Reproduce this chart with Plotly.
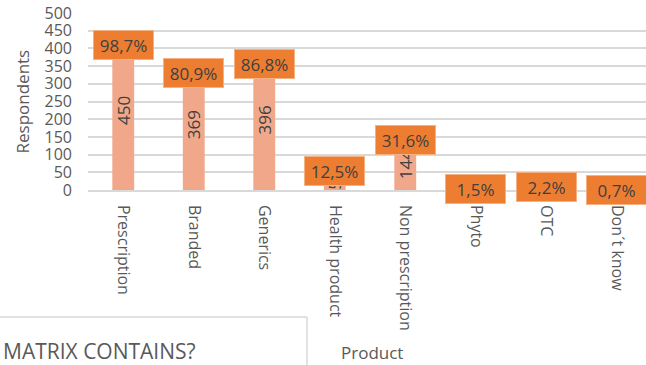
import plotly.graph_objects as go

categories = ["Prescription", "Branded", "Generics", "Health product",
              "Non prescription", "Phyto", "OTC", "Don´t know"]
respondents = [450, 369, 396, 57, 144, 7, 10, 3]
pct_labels = ["98,7%", "80,9%", "86,8%", "12,5%", "31,6%", "1,5%", "2,2%", "0,7%"]
y_ticks = [0, 50, 100, 150, 200, 250, 300, 350, 400, 450, 500]

W, H = 646, 365
ML, MR, MT, MB = 88, 0, 13, 175
pw = W - ML - MR
ph = H - MT - MB

def px_x(px):
    return (px - ML) / pw

def px_y(py):
    return (H - MB - py) / ph

FONT = "Open Sans"
TXT = "#404040"
GRAY = "#595959"

fig = go.Figure()
fig.add_trace(go.Bar(
    x=categories, y=respondents,
    width=0.31,
    marker=dict(color="#F1A88A", line=dict(width=0)),
    text=[str(v) for v in respondents],
    textposition="inside",
    insidetextanchor="middle",
    textangle=-90,
    constraintext="none",
    textfont=dict(family=FONT, size=17, color=TXT),
    cliponaxis=False,
    hoverinfo="skip",
))

annotations = []
for cat, v, lab in zip(categories, respondents, pct_labels):
    big = v >= 300
    annotations.append(dict(
        x=cat, y=v, xref="x", yref="y",
        text=lab, showarrow=False,
        xanchor="center",
        yanchor="top" if big else "middle",
        yshift=1 if big else -1,
        font=dict(family=FONT, size=17, color=TXT),
        bgcolor="#ED7D31", bordercolor="#F4B183", borderwidth=1,
        borderpad=3, width=53, height=22,
    ))

annotations.append(dict(
    x=px_x(22), y=0.5, xref="paper", yref="paper",
    text="Respondents", textangle=-90, showarrow=False,
    xanchor="center", yanchor="middle",
    font=dict(family=FONT, size=17, color=GRAY),
))
annotations.append(dict(
    x=px_x(372), y=px_y(352), xref="paper", yref="paper",
    text="Product", showarrow=False,
    xanchor="center", yanchor="middle",
    font=dict(family=FONT, size=17, color=GRAY),
))
annotations.append(dict(
    x=px_x(1), y=px_y(351), xref="paper", yref="paper",
    text="MATRIX CONTAINS?", showarrow=False,
    xanchor="left", yanchor="middle",
    font=dict(family=FONT, size=21, color=GRAY),
))

shapes = [
    dict(type="line", xref="paper", yref="paper",
         x0=px_x(-2), x1=px_x(307), y0=px_y(317), y1=px_y(317),
         line=dict(color="#D9D9D9", width=1.5)),
    dict(type="line", xref="paper", yref="paper",
         x0=px_x(307), x1=px_x(307), y0=px_y(317), y1=px_y(368),
         line=dict(color="#D9D9D9", width=1.5)),
]

fig.update_layout(
    width=W, height=H,
    margin=dict(l=ML, r=MR, t=MT, b=MB, pad=0),
    paper_bgcolor="white", plot_bgcolor="white",
    showlegend=False,
    annotations=annotations,
    shapes=shapes,
    xaxis=dict(
        range=[-0.5, 7.415],
        tickangle=90,
        tickfont=dict(family=FONT, size=16, color=GRAY),
        showline=True, linecolor="#D9D9D9", linewidth=1.5,
        showgrid=False, ticks="",
        ticklabelstandoff=10,
        fixedrange=True,
    ),
    yaxis=dict(
        range=[0, 500],
        tickvals=y_ticks,
        tickfont=dict(family=FONT, size=16, color=GRAY),
        showgrid=True, gridcolor="#D9D9D9", gridwidth=1.5,
        zeroline=False, ticks="",
        ticklabelstandoff=15,
        fixedrange=True,
    ),
)

fig.write_html("out.html")
